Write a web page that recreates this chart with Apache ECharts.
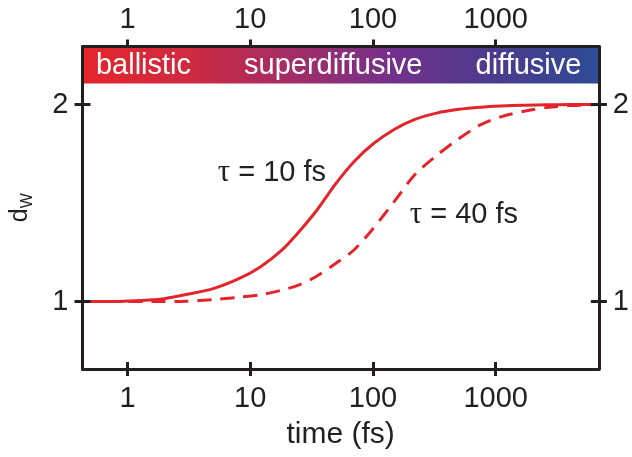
<!DOCTYPE html>
<html>
<head>
<meta charset="utf-8">
<title>Walk dimension vs time</title>
<script src="https://cdn.jsdelivr.net/npm/echarts@6/dist/echarts.min.js"></script>
<style>
  html, body { margin: 0; padding: 0; background: #ffffff; }
  #chart { width: 632px; height: 457px; }
</style>
</head>
<body>
<div id="chart"></div>
<script>
// Time samples (fs) along the log axis
const timeFs  = [0.43, 0.7, 1, 1.5, 2, 3, 5, 8, 12, 18, 25, 35, 50, 70, 100, 150, 220, 330, 500, 750, 1100, 1700, 2600, 4000, 6930];
// Walk dimension d_W for the two correlation times
const dwTau10 = [1.000, 1.000, 1.003, 1.008, 1.015, 1.036, 1.066, 1.115, 1.175, 1.260, 1.355, 1.465, 1.600, 1.710, 1.800, 1.875, 1.925, 1.957, 1.976, 1.987, 1.993, 1.997, 1.999, 2.000, 2.000];
const dwTau40 = [1.000, 1.000, 1.000, 1.000, 1.000, 1.002, 1.010, 1.022, 1.034, 1.058, 1.085, 1.130, 1.195, 1.262, 1.370, 1.510, 1.645, 1.742, 1.827, 1.897, 1.938, 1.966, 1.985, 1.995, 2.000];

const timeTicks = [1, 10, 100, 1000];
const dwTicks = [1, 2];
const timeRange = [0.43, 6930];
const dwRange = [0.658, 2.295];

// Transport regimes shown in the colour band across the top
const regimeNames = ['ballistic', 'superdiffusive', 'diffusive'];
const regimeTimes = [1.35, 47.5, 1850];
const regimeLevel = 2.195;
const bandFloor = 2.107;

// Curve annotations
const curveTaus = ['10 fs', '40 fs'];
const curveLabelTimes = [15, 550];
const curveLabelLevels = [1.652, 1.442];

const ink = '#231f20';
const red = '#e3252b';
const sans = 'Liberation Sans, Arial, Helvetica, sans-serif';

const chart = echarts.init(document.getElementById('chart'), null, { renderer: 'canvas' });

function pairs(xs, ys) { return xs.map((x, i) => [x, ys[i]]); }

function timeAxis(position, opts) {
  return {
    type: 'log',
    position: position,
    min: timeRange[0],
    max: timeRange[1],
    z: 10,
    axisLine: { show: opts.line, onZero: false, lineStyle: { color: ink, width: 3 } },
    axisTick: { show: true, inside: opts.inside, length: 7, customValues: timeTicks, lineStyle: { color: ink, width: 3 } },
    axisLabel: { show: opts.labels, customValues: timeTicks, margin: opts.margin || 14, color: ink, fontSize: 29, fontFamily: sans, formatter: v => String(v) },
    splitLine: { show: false },
    minorTick: { show: false },
    minorSplitLine: { show: false }
  };
}

function dwAxis(position, opts) {
  return {
    type: 'value',
    position: position,
    min: dwRange[0],
    max: dwRange[1],
    z: 10,
    axisLine: { show: opts.line, onZero: false, lineStyle: { color: ink, width: 3 } },
    axisTick: { show: true, inside: opts.inside, length: 8, customValues: dwTicks, lineStyle: { color: ink, width: 3 } },
    axisLabel: { show: opts.labels, customValues: dwTicks, margin: 14, color: ink, fontSize: 29, fontFamily: sans },
    splitLine: { show: false }
  };
}

const bottomAxis = timeAxis('bottom', { line: true, inside: false, labels: true, margin: 15 });
bottomAxis.name = 'time (fs)';
bottomAxis.nameLocation = 'middle';
bottomAxis.nameGap = 51;
bottomAxis.nameTextStyle = { color: ink, fontSize: 30, fontFamily: sans };

const leftAxis = dwAxis('left', { line: true, inside: false, labels: true });
leftAxis.name = '{d|d}{w|W}';
leftAxis.nameLocation = 'middle';
leftAxis.nameGap = 47;
leftAxis.nameRotate = 90;
leftAxis.nameTextStyle = {
  color: ink,
  fontFamily: sans,
  rich: {
    d: { fontSize: 25, fontFamily: sans, color: ink, lineHeight: 30 },
    w: { fontSize: 16, fontFamily: sans, color: ink, verticalAlign: 'bottom', lineHeight: 30 }
  }
};

const option = {
  animation: false,
  backgroundColor: '#ffffff',
  grid: { left: 79, right: 28, top: 46.5, bottom: 88, containLabel: false },
  xAxis: [
    bottomAxis,
    timeAxis('bottom', { line: false, inside: true, labels: false }),
    timeAxis('top', { line: true, inside: false, labels: true, margin: 12 })
  ],
  yAxis: [
    leftAxis,
    dwAxis('left', { line: false, inside: true, labels: false }),
    dwAxis('right', { line: true, inside: false, labels: true }),
    dwAxis('right', { line: false, inside: true, labels: false })
  ],
  series: [
    {
      name: 'tau 10 fs',
      type: 'line',
      xAxisIndex: 0,
      yAxisIndex: 0,
      data: pairs(timeFs, dwTau10),
      smooth: 0.3,
      showSymbol: false,
      silent: true,
      z: 4,
      lineStyle: { color: red, width: 3 },
      markArea: {
        silent: true,
        label: { show: false },
        itemStyle: {
          opacity: 1,
          color: new echarts.graphic.LinearGradient(0, 0, 1, 0, [
            { offset: 0.00, color: '#e4252c' },
            { offset: 0.20, color: '#cf2a3f' },
            { offset: 0.40, color: '#a42d65' },
            { offset: 0.60, color: '#73318c' },
            { offset: 0.80, color: '#4b3b8c' },
            { offset: 1.00, color: '#2e4b96' }
          ])
        },
        data: [[
          { xAxis: timeRange[0], yAxis: bandFloor },
          { xAxis: timeRange[1], yAxis: dwRange[1] }
        ]]
      }
    },
    {
      name: 'tau 40 fs',
      type: 'line',
      xAxisIndex: 0,
      yAxisIndex: 0,
      data: pairs(timeFs, dwTau40),
      smooth: 0.3,
      showSymbol: false,
      silent: true,
      z: 3,
      lineStyle: { color: red, width: 3, type: [14, 9] }
    },
    {
      name: 'regimes',
      type: 'scatter',
      xAxisIndex: 0,
      yAxisIndex: 0,
      symbolSize: 0,
      silent: true,
      z: 6,
      itemStyle: { opacity: 1 },
      data: regimeNames.map((n, i) => ({ name: n, value: [regimeTimes[i], regimeLevel] })),
      label: {
        show: true,
        position: 'inside',
        formatter: p => p.name,
        color: '#ffffff',
        opacity: 1,
        textBorderWidth: 0,
        fontSize: 29,
        fontFamily: sans
      }
    },
    {
      name: 'annotations',
      type: 'scatter',
      xAxisIndex: 0,
      yAxisIndex: 0,
      symbolSize: 0,
      silent: true,
      z: 6,
      itemStyle: { opacity: 1 },
      data: curveTaus.map((t, i) => ({ name: t, value: [curveLabelTimes[i], curveLabelLevels[i]] })),
      label: {
        show: true,
        position: 'inside',
        formatter: p => '{t|\u03c4} = ' + p.name,
        color: ink,
        opacity: 1,
        textBorderWidth: 0,
        fontSize: 29,
        fontFamily: sans,
        rich: {
          t: { fontFamily: 'Liberation Serif, DejaVu Serif, serif', fontSize: 31, color: ink }
        }
      }
    }
  ]
};

chart.setOption(option);
</script>
</body>
</html>
